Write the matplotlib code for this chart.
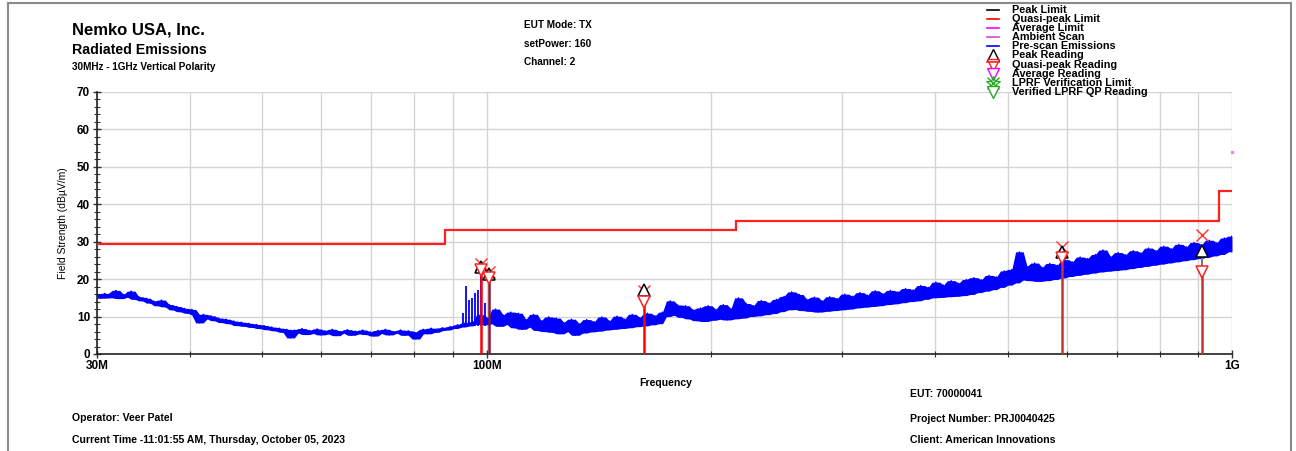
import matplotlib
matplotlib.use("Agg")
import matplotlib.pyplot as plt
from matplotlib.lines import Line2D
from matplotlib.ticker import FixedLocator, NullFormatter
import numpy as np

plt.rcParams['font.family'] = ['Liberation Sans', 'DejaVu Sans']

# ---------------- data ----------------
# Pre-scan emissions: sweep from 30 MHz to 1 GHz (300 log-spaced points), level in dBuV/m
scan_start_mhz, scan_stop_mhz = 30.0, 1000.0
scan_level = [
    15.8, 14.9, 16.2, 15.0, 15.6, 17.0, 14.8, 15.9, 15.2, 16.8,
    14.6, 15.3, 14.2, 14.9, 13.6, 14.1, 12.9, 14.4, 12.6, 13.2,
    11.8, 12.7, 11.3, 12.2, 10.9, 11.9, 10.4, 8.3, 10.6, 9.4,
    10.2, 8.9, 9.6, 8.4, 9.3, 8.1, 8.8, 7.6, 8.5, 7.4,
    8.2, 7.1, 7.9, 6.8, 7.6, 6.5, 7.2, 6.2, 6.9, 5.8,
    6.6, 4.3, 6.4, 5.6, 6.8, 5.2, 6.3, 5.5, 6.7, 5.1,
    6.2, 5.4, 6.6, 4.9, 6.0, 5.6, 6.5, 5.0, 6.1, 5.4,
    6.4, 5.2, 5.9, 4.8, 6.3, 5.5, 6.6, 5.1, 6.0, 5.6,
    6.4, 5.0, 6.2, 5.3, 4.0, 5.9, 6.6, 5.4, 6.9, 5.8,
    6.2, 7.0, 6.4, 7.3, 6.8, 7.8, 7.2, 8.3, 7.5, 8.6,
    8.0, 10.5, 7.8, 9.6, 8.1, 12.0, 7.4, 10.4, 7.9, 11.2,
    7.0, 10.9, 6.6, 9.2, 7.2, 10.6, 6.3, 8.9, 6.0, 9.9,
    5.8, 9.6, 5.4, 8.4, 6.0, 9.3, 5.0, 8.1, 5.6, 9.2,
    5.9, 8.6, 6.1, 9.9, 6.4, 8.8, 6.6, 10.1, 6.8, 9.3,
    7.0, 10.6, 7.3, 9.7, 7.5, 10.9, 7.8, 10.2, 8.1, 11.2,
    10.0, 14.2, 10.4, 13.1, 9.8, 12.9, 9.4, 11.8, 8.9, 12.3,
    8.7, 12.9, 9.0, 11.9, 9.3, 13.2, 9.1, 12.1, 9.4, 15.0,
    9.6, 13.5, 10.0, 12.9, 10.2, 14.3, 10.5, 13.6, 10.8, 14.6,
    11.3, 15.4, 11.8, 16.6, 11.9, 15.9, 11.6, 14.6, 11.4, 15.2,
    11.2, 14.2, 11.4, 15.3, 11.6, 14.8, 11.8, 16.0, 12.0, 15.4,
    12.3, 16.4, 12.5, 15.7, 12.7, 16.9, 12.9, 16.1, 13.2, 17.0,
    13.4, 16.6, 13.7, 17.5, 14.0, 17.1, 14.2, 18.3, 14.6, 17.8,
    15.0, 19.2, 15.1, 18.4, 15.3, 19.6, 15.4, 18.9, 15.6, 19.9,
    15.9, 20.4, 16.4, 19.8, 16.8, 21.0, 17.2, 20.6, 17.8, 22.2,
    18.4, 22.6, 19.0, 27.3, 19.8, 23.4, 19.6, 24.3, 19.4, 23.1,
    19.6, 24.2, 19.9, 23.7, 20.3, 25.2, 20.7, 24.6, 21.0, 25.9,
    21.3, 25.5, 21.6, 26.6, 21.9, 27.8, 22.1, 26.0, 22.3, 27.1,
    22.5, 26.5, 22.8, 27.6, 23.1, 27.0, 23.4, 28.3, 23.7, 27.6,
    24.0, 28.8, 24.3, 28.1, 24.6, 29.3, 24.9, 28.6, 25.2, 29.8,
    25.5, 29.2, 25.8, 30.4, 26.2, 29.7, 26.6, 31.0, 27.3, 31.5,
]
# narrow spikes near 100 MHz (frequency MHz, peak level)
spike_freq = [92.9, 93.8, 94.8, 95.7, 96.5, 97.4, 98.2, 99.6]
spike_top = [11.0, 18.2, 14.4, 15.0, 16.3, 17.0, 21.5, 13.5]
spike_base = 7.5

# Quasi-peak limit (step edges in MHz, level in dBuV/m)
limit_edges = [30, 88, 216, 960, 1000]
limit_levels = [29.5, 33.0, 35.5, 43.5]
avg_limit_1g = 54.0

# Final measurements
meas_freq = [98.2, 100.8, 162.6, 592.0, 911.0]
meas_peak = [23.2, 21.4, 17.0, 27.3, 27.5]
meas_qp = [22.4, 20.3, 13.9, 25.6, 22.0]
meas_x = [24.0, 21.9, 16.8, 28.6, 31.8]

xtick_vals = [30, 100, 1000]
xtick_labels = ['30M', '100M', '1G']

legend_labels = ['Peak Limit', 'Quasi-peak Limit', 'Average Limit', 'Ambient Scan',
                 'Pre-scan Emissions', 'Peak Reading', 'Quasi-peak Reading', 'Average Reading',
                 'LPRF Verification Limit', 'Verified LPRF QP Reading']

# ---------------- figure ----------------
W, H = 1296, 451
fig = plt.figure(figsize=(W / 100, H / 100), dpi=100)
fig.patch.set_facecolor('white')

def fx(px):
    return px / W

def fy(py):
    return 1 - py / H

ax = fig.add_axes([fx(97), fy(354), fx(1232) - fx(97), fy(92) - fy(354)])
ax.set_xscale('log')
ax.set_xlim(30, 1000)
ax.set_ylim(0, 70)

# grid / ticks
ax.xaxis.set_major_locator(FixedLocator(xtick_vals))
ax.set_xticklabels(xtick_labels, fontsize=8.5, fontweight='bold')
minor_x = [40, 50, 60, 70, 80, 90, 200, 300, 400, 500, 600, 700, 800, 900]
ax.xaxis.set_minor_locator(FixedLocator(minor_x))
ax.xaxis.set_minor_formatter(NullFormatter())
ax.set_yticks(range(0, 71, 10))
ax.set_yticklabels([str(v) for v in range(0, 71, 10)], fontsize=8.5, fontweight='bold')
ax.yaxis.set_minor_locator(FixedLocator([v for v in range(0, 71, 2) if v % 10 != 0]))
gcol = '#d4d4d4'
ax.grid(True, which='major', axis='y', color=gcol, lw=1.0)
ax.grid(True, which='both', axis='x', color=gcol, lw=1.0)
ax.set_axisbelow(True)
for s in ['top', 'right']:
    ax.spines[s].set_visible(False)
for s in ['left', 'bottom']:
    ax.spines[s].set_color('#222222')
    ax.spines[s].set_linewidth(1.2)
ax.tick_params(axis='both', which='major', direction='inout', length=6, width=1, color='#333333', pad=2)
ax.tick_params(axis='both', which='minor', direction='inout', length=4, width=0.8, color='#333333')
ax.tick_params(axis='x', which='major', pad=1)

# pre-scan trace: envelope of neighbouring sweep points, filled, plus the trace itself
lv = np.array(scan_level)
f = np.geomspace(scan_start_mhz, scan_stop_mhz, len(lv))
prev_ = np.concatenate([[lv[0]], lv[:-1]])
next_ = np.concatenate([lv[1:], [lv[-1]]])
env_lo = np.minimum(np.minimum(prev_, lv), next_)
env_hi = np.maximum(np.maximum(prev_, lv), next_)
ax.fill_between(f, env_lo, env_hi, color='#0000ff', lw=0, zorder=2)
ax.plot(f, lv, color='#0000ff', lw=1.0, zorder=2)
ax.vlines(spike_freq, spike_base, spike_top, color='#0000ff', lw=1.3, zorder=2)

# limit
ax.stairs(limit_levels, limit_edges, color='#ff2020', lw=1.6, zorder=3, baseline=None)
ax.plot([1000], [avg_limit_1g], marker='s', ms=1.5, color='#ee88ee', clip_on=False, zorder=3)

# measurements
stem_cols = ['#ff0000', '#8a1538', '#ff0000', '#c83232', '#c83232']
for i in range(len(meas_freq)):
    ax.plot([meas_freq[i], meas_freq[i]], [0, meas_qp[i]], color=stem_cols[i], lw=1.8, zorder=4)
    ax.plot([meas_freq[i], meas_freq[i]], [meas_qp[i], meas_peak[i]], color='#777777', lw=1.5, zorder=4)
ax.plot(meas_freq, meas_x, ls='none', marker='x', ms=9, mew=1.0, color='#ff3030', zorder=5)
ax.plot(meas_freq, meas_peak, ls='none', marker='^', ms=8, mew=1.1, mec='black', mfc='white', zorder=6)
ax.plot(meas_freq, meas_qp, ls='none', marker='v', ms=8, mew=1.1, mec='#ff2020', mfc='white', zorder=6)

ax.set_ylabel('Field Strength (dBµV/m)', fontsize=7.5, labelpad=6)

# ---------------- texts ----------------
def t(px, py, s, size, weight='bold', ha='left'):
    fig.text(fx(px), fy(py), s, fontsize=size, fontweight=weight, ha=ha, va='center')

t(72, 30, 'Nemko USA, Inc.', 12)
t(72, 50, 'Radiated Emissions', 10.2)
t(72, 67, '30MHz - 1GHz Vertical Polarity', 7.2)
t(524, 25, 'EUT Mode: TX', 7.2)
t(524, 44, 'setPower: 160', 7.2)
t(524, 62, 'Channel: 2', 7.2)
t(666, 383, 'Frequency', 7.6, ha='center')
t(910, 394, 'EUT: 70000041', 7.5)
t(72, 418, 'Operator: Veer Patel', 7.6)
t(910, 419, 'Project Number: PRJ0040425', 7.5)
t(72, 440, 'Current Time -11:01:55 AM, Thursday, October 05, 2023', 7.6)
t(910, 440, 'Client: American Innovations', 7.6)

# legend (manual)
leg_y0, leg_dy = 10, 9.1
line_cols = ['black', '#ff0000', '#ff00ff', '#dd44dd', '#0000ff']
for i, lab in enumerate(legend_labels):
    y = leg_y0 + i * leg_dy
    t(1012, y, lab, 7.8)
    if i < 5:
        fig.add_artist(Line2D([fx(987), fx(999)], [fy(y), fy(y)], color=line_cols[i], lw=1.2))
xm = fx(993)
fig.add_artist(Line2D([xm], [fy(leg_y0 + 5 * leg_dy - 1)], marker='^', ms=9, mfc='white', mec='black', mew=1.0, ls='none'))
fig.add_artist(Line2D([xm], [fy(leg_y0 + 6 * leg_dy)], marker='v', ms=9, mfc='white', mec='#ff2020', mew=1.0, ls='none'))
fig.add_artist(Line2D([fx(987), fx(999)], [fy(leg_y0 + 6 * leg_dy - 3), fy(leg_y0 + 6 * leg_dy - 3)], color='#ff2020', lw=1.2))
fig.add_artist(Line2D([xm], [fy(leg_y0 + 7 * leg_dy)], marker='v', ms=9, mfc='white', mec='#ff00ff', mew=1.0, ls='none'))
fig.add_artist(Line2D([xm], [fy(leg_y0 + 8 * leg_dy)], marker='*', ms=10, mfc='none', mec='#22aa22', mew=0.9, ls='none'))
fig.add_artist(Line2D([xm], [fy(leg_y0 + 8 * leg_dy)], marker='x', ms=9, color='#22aa22', mew=1.0, ls='none'))
fig.add_artist(Line2D([xm], [fy(leg_y0 + 9 * leg_dy)], marker='v', ms=9, mfc='white', mec='#22aa22', mew=1.0, ls='none'))

# outer frame
fc = '#8a8a8a'
fig.add_artist(Line2D([fx(8), fx(8)], [fy(3), 0], color=fc, lw=1.5))
fig.add_artist(Line2D([fx(8), fx(1291)], [fy(3), fy(3)], color=fc, lw=1.5))
fig.add_artist(Line2D([fx(1291), fx(1291)], [fy(3), 0], color=fc, lw=1.5))

fig.savefig('out.png', dpi=100)
